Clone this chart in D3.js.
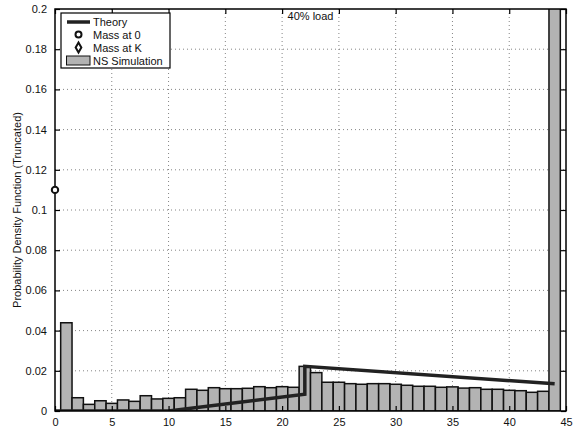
<!DOCTYPE html>
<html><head><meta charset="utf-8">
<script src="https://cdn.jsdelivr.net/npm/d3@7"></script>
<style>
body{margin:0;background:#fff;}
text{font-family:"Liberation Sans",Arial,Helvetica,sans-serif;}
</style>
</head><body>
<svg id="chart" width="575" height="432"></svg>
<script>
// Data
const binCenters = d3.range(1, 45); // 1..44
const simValues = [
  0.0439, 0.0066, 0.0033, 0.0051, 0.0038, 0.0055, 0.0048, 0.0076, 0.0060, 0.0063,
  0.0066, 0.0108, 0.0103, 0.0116, 0.0111, 0.0111, 0.0113, 0.0121, 0.0116, 0.0121,
  0.0118, 0.0222, 0.0191, 0.0143, 0.0143, 0.0136, 0.0133, 0.0136, 0.0136, 0.0133,
  0.0128, 0.0123, 0.0123, 0.0118, 0.0120, 0.0114, 0.0116, 0.0108, 0.0108, 0.0103,
  0.0101, 0.0093, 0.0098, 0.30
];
const theoryX = [0, 10, 22, 22, 44];
const theoryY = [0, 0, 0.0083, 0.0222, 0.0135];
const massAt0 = {x: 0, y: 0.11};
const massAtK = {x: 45, y: 0.30};
const xTicks = [0, 5, 10, 15, 20, 25, 30, 35, 40, 45];
const yTicks = [0, 0.02, 0.04, 0.06, 0.08, 0.1, 0.12, 0.14, 0.16, 0.18, 0.2];
const legendLabels = ["Theory", "Mass at 0", "Mass at K", "NS Simulation"];
const titleText = "40% load";
const yLabel = "Probability Density Function (Truncated)";

const svg = d3.select("#chart");
const L = 55, R = 566, T = 9, B = 411;
const x = d3.scaleLinear().domain([0, 45]).range([L, R]);
const y = d3.scaleLinear().domain([0, 0.2]).range([B, T]);

svg.append("defs").append("clipPath").attr("id", "clip")
  .append("rect").attr("x", L).attr("y", T).attr("width", R - L).attr("height", B - T);

// grid
const grid = svg.append("g");
xTicks.filter(t => t > 0 && t < 45).forEach(t => {
  grid.append("line").attr("x1", x(t)).attr("x2", x(t)).attr("y1", T).attr("y2", B)
    .attr("stroke", "#666").attr("stroke-width", 0.8).attr("stroke-dasharray", "1,3");
});
yTicks.filter(t => t > 0 && t < 0.2).forEach(t => {
  grid.append("line").attr("x1", L).attr("x2", R).attr("y1", y(t)).attr("y2", y(t))
    .attr("stroke", "#666").attr("stroke-width", 0.8).attr("stroke-dasharray", "1,3");
});

// bars
const plot = svg.append("g").attr("clip-path", "url(#clip)");
const bw = x(1) - x(0);
plot.selectAll("rect.bar").data(binCenters.map((c, i) => ({c, v: simValues[i]})))
  .enter().append("rect").attr("class", "bar")
  .attr("x", d => x(d.c - 0.5)).attr("width", bw)
  .attr("y", d => y(d.v)).attr("height", d => B - y(d.v))
  .attr("fill", "#b3b3b3").attr("stroke", "#111").attr("stroke-width", 1.5);

// theory line
const line = d3.line().x(d => x(d[0])).y(d => y(d[1]));
plot.append("path").datum(theoryX.map((v, i) => [v, theoryY[i]]))
  .attr("d", line).attr("fill", "none").attr("stroke", "#222").attr("stroke-width", 3.5)
  .attr("stroke-linejoin", "miter");

// mass at K (off-scale, clipped)
plot.append("path").attr("d", d3.symbol(d3.symbolDiamond, 40)())
  .attr("transform", `translate(${x(massAtK.x)},${y(massAtK.y)})`)
  .attr("fill", "none").attr("stroke", "#111").attr("stroke-width", 2);

// axes
const ax = svg.append("g");
ax.append("rect").attr("x", L).attr("y", T).attr("width", R - L).attr("height", B - T)
  .attr("fill", "none").attr("stroke", "#000").attr("stroke-width", 1.5);

const xAxisB = d3.axisBottom(x).tickValues(xTicks).tickSizeInner(-5).tickSizeOuter(0).tickPadding(7).tickFormat(d3.format("d"));
const gxb = svg.append("g").attr("transform", `translate(0,${B})`).call(xAxisB);
const xAxisT = d3.axisTop(x).tickValues(xTicks).tickSizeInner(-5).tickSizeOuter(0).tickFormat("");
const gxt = svg.append("g").attr("transform", `translate(0,${T})`).call(xAxisT);
const yAxisL = d3.axisLeft(y).tickValues(yTicks).tickSizeInner(-5).tickSizeOuter(0).tickPadding(8).tickFormat(d => d === 0 ? "0" : String(+d.toFixed(2)));
const gyl = svg.append("g").attr("transform", `translate(${L},0)`).call(yAxisL);
const yAxisR = d3.axisRight(y).tickValues(yTicks).tickSizeInner(-5).tickSizeOuter(0).tickFormat("");
const gyr = svg.append("g").attr("transform", `translate(${R},0)`).call(yAxisR);
[gxb, gxt, gyl, gyr].forEach(g => {
  g.select(".domain").remove();
  g.selectAll(".tick line").attr("stroke", "#000").attr("stroke-width", 1.2);
  g.selectAll("text").attr("font-size", 11).attr("fill", "#111")
    .style("font-family", "'Liberation Sans',Arial,sans-serif");
});

// mass at 0 circle
svg.append("circle").attr("cx", x(massAt0.x)).attr("cy", y(massAt0.y)).attr("r", 3.2)
  .attr("fill", "#fff").attr("stroke", "#111").attr("stroke-width", 2);

// title
svg.append("text").attr("x", x(22.5)).attr("y", T + 11).attr("text-anchor", "middle")
  .attr("font-size", 11).attr("fill", "#111").text(titleText);

// y label
svg.append("text").attr("transform", `translate(21,${(T + B) / 2}) rotate(-90)`)
  .attr("text-anchor", "middle").attr("font-size", 11).attr("fill", "#111").text(yLabel);

// legend
const lg = svg.append("g");
lg.append("rect").attr("x", 61).attr("y", 13).attr("width", 109).attr("height", 55)
  .attr("fill", "#fff").attr("stroke", "#000").attr("stroke-width", 1.2);
const rowsY = [22, 34.5, 47.5, 60.5];
lg.append("line").attr("x1", 67).attr("x2", 90).attr("y1", rowsY[0]).attr("y2", rowsY[0])
  .attr("stroke", "#222").attr("stroke-width", 3.5);
lg.append("circle").attr("cx", 78.5).attr("cy", rowsY[1]).attr("r", 3)
  .attr("fill", "#fff").attr("stroke", "#111").attr("stroke-width", 2);
lg.append("path").attr("d", d3.symbol(d3.symbolDiamond, 28)())
  .attr("transform", `translate(78.5,${rowsY[2]})`)
  .attr("fill", "#fff").attr("stroke", "#111").attr("stroke-width", 2);
lg.append("rect").attr("x", 66.5).attr("y", rowsY[3] - 4.5).attr("width", 23.5).attr("height", 9)
  .attr("fill", "#b3b3b3").attr("stroke", "#111").attr("stroke-width", 1);
legendLabels.forEach((t, i) => {
  lg.append("text").attr("x", 93).attr("y", rowsY[i] + 4).attr("font-size", 11)
    .attr("fill", "#111").text(t);
});
</script>
</body></html>
